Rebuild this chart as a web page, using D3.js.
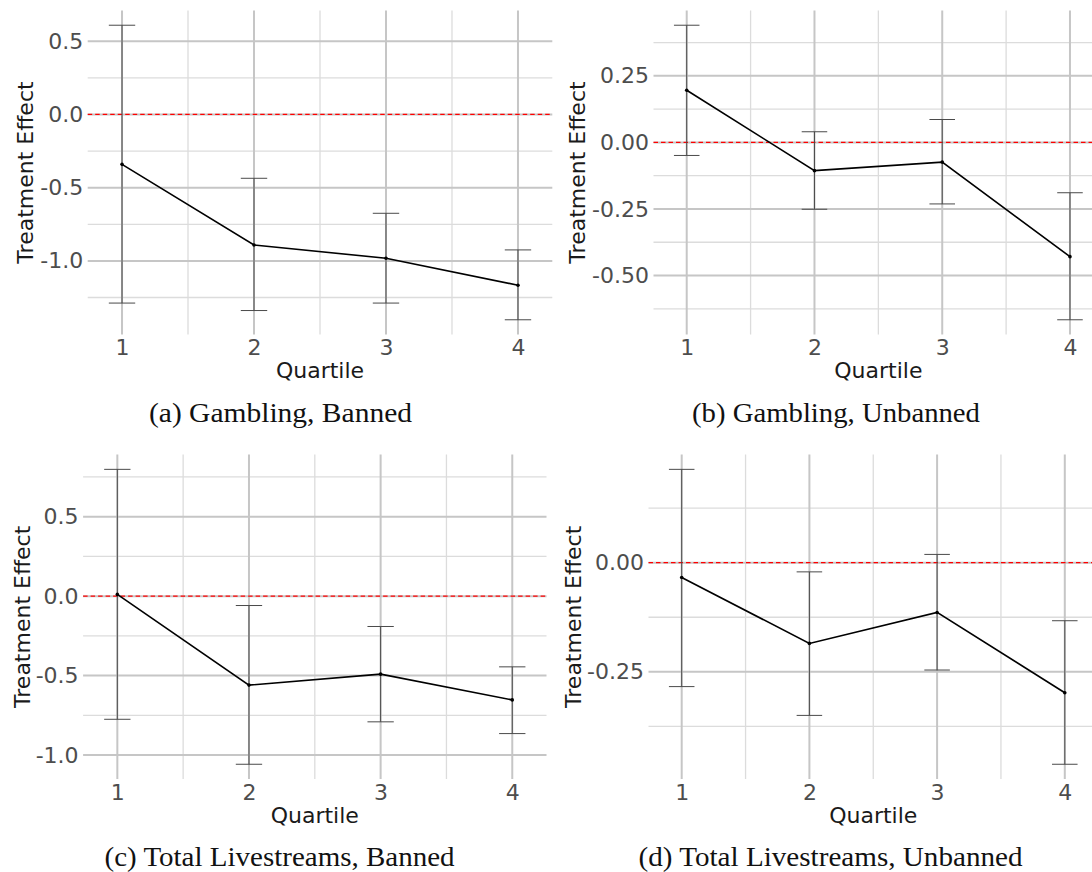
<!DOCTYPE html>
<html><head><meta charset="utf-8">
<script src="https://cdn.jsdelivr.net/npm/d3@7"></script>
<style>body{margin:0;background:#fff}svg{display:block}</style>
</head><body>
<svg id="chart" width="1092" height="872"></svg>
<script>
// ---------------- data ----------------
const quartiles = [1, 2, 3, 4];
const xTickLabels = ["1", "2", "3", "4"];

const gamblingBannedEst   = [-0.341, -0.891, -0.982, -1.166];
const gamblingBannedLow   = [-1.288, -1.339, -1.288, -1.402];
const gamblingBannedHigh  = [ 0.609, -0.436, -0.675, -0.925];

const gamblingUnbannedEst  = [ 0.196, -0.106, -0.074, -0.429];
const gamblingUnbannedLow  = [-0.049, -0.251, -0.231, -0.666];
const gamblingUnbannedHigh = [ 0.440,  0.040,  0.086, -0.189];

const livestreamsBannedEst  = [ 0.011, -0.560, -0.491, -0.653];
const livestreamsBannedLow  = [-0.775, -1.058, -0.791, -0.865];
const livestreamsBannedHigh = [ 0.798, -0.059, -0.191, -0.445];

const livestreamsUnbannedEst  = [-0.034, -0.185, -0.114, -0.298];
const livestreamsUnbannedLow  = [-0.284, -0.350, -0.246, -0.462];
const livestreamsUnbannedHigh = [ 0.214, -0.021,  0.019, -0.133];

const yTicksGamblingBanned = [-1.0, -0.5, 0.0, 0.5];
const yLabelsGamblingBanned = ["-1.0", "-0.5", "0.0", "0.5"];
const yTicksGamblingUnbanned = [-0.5, -0.25, 0.0, 0.25];
const yLabelsGamblingUnbanned = ["-0.50", "-0.25", "0.00", "0.25"];
const yTicksLivestreamsBanned = [-1.0, -0.5, 0.0, 0.5];
const yLabelsLivestreamsBanned = ["-1.0", "-0.5", "0.0", "0.5"];
const yTicksLivestreamsUnbanned = [-0.25, 0.0];
const yLabelsLivestreamsUnbanned = ["-0.25", "0.00"];

const captions = ["(a) Gambling, Banned", "(b) Gambling, Unbanned",
                  "(c) Total Livestreams, Banned", "(d) Total Livestreams, Unbanned"];
const xTitle = "Quartile";
const yTitle = "Treatment Effect";
const referenceValue = 0;
const errorbarWidth = 0.2;

// ---------------- layout ----------------
const layouts = [
  {left: 87.7,  right: 552.3,  top: 10.5,  bottom: 334.5, ytitleX: 25,    capX: 280.5, capY: 422, capW: 263},
  {left: 653.5, right: 1103.2, top: 10.5,  bottom: 334.5, ytitleX: 577,   capX: 836,   capY: 422, capW: 288},
  {left: 83.1,  right: 546.5,  top: 454.6, bottom: 779,   ytitleX: 21.7,  capX: 279.5, capY: 866, capW: 350},
  {left: 648.5, right: 1098,   top: 454.6, bottom: 779,   ytitleX: 573.3, capX: 830.5, capY: 866, capW: 384}
];

const panels = [
  {est: gamblingBannedEst, low: gamblingBannedLow, high: gamblingBannedHigh, ticks: yTicksGamblingBanned, labels: yLabelsGamblingBanned},
  {est: gamblingUnbannedEst, low: gamblingUnbannedLow, high: gamblingUnbannedHigh, ticks: yTicksGamblingUnbanned, labels: yLabelsGamblingUnbanned},
  {est: livestreamsBannedEst, low: livestreamsBannedLow, high: livestreamsBannedHigh, ticks: yTicksLivestreamsBanned, labels: yLabelsLivestreamsBanned},
  {est: livestreamsUnbannedEst, low: livestreamsUnbannedLow, high: livestreamsUnbannedHigh, ticks: yTicksLivestreamsUnbanned, labels: yLabelsLivestreamsUnbanned}
];

const svg = d3.select("#chart");
svg.append("rect").attr("width", 1092).attr("height", 872).attr("fill", "#fff");

const sansFont = "'DejaVu Sans', sans-serif";

panels.forEach((p, i) => {
  const L = layouts[i];
  const rows = quartiles.map((q, k) => ({q, est: p.est[k], low: p.low[k], high: p.high[k]}));

  // ggplot-like 5% expansion
  const xmin = d3.min(quartiles) - errorbarWidth / 2, xmax = d3.max(quartiles) + errorbarWidth / 2;
  const xpad = 0.05 * (xmax - xmin);
  const x = d3.scaleLinear().domain([xmin - xpad, xmax + xpad]).range([L.left, L.right]);
  const ymin = d3.min(p.low), ymax = d3.max(p.high);
  const ypad = 0.05 * (ymax - ymin);
  const yDom = [ymin - ypad, ymax + ypad];
  const y = d3.scaleLinear().domain(yDom).range([L.bottom, L.top]);

  const g = svg.append("g");

  // minor gridlines
  const step = p.ticks[1] - p.ticks[0];
  const yMinor = [];
  for (let k = -1; k < p.ticks.length; k++) {
    const v = p.ticks[0] + (k + 0.5) * step;
    if (v >= yDom[0] && v <= yDom[1]) yMinor.push(v);
  }
  const xMinor = quartiles.slice(0, -1).map(q => q + 0.5);

  g.selectAll(".hmin").data(yMinor).join("line")
    .attr("x1", L.left).attr("x2", L.right).attr("y1", d => y(d)).attr("y2", d => y(d))
    .attr("stroke", "#dcdcdc").attr("stroke-width", 1.3);
  g.selectAll(".vmin").data(xMinor).join("line")
    .attr("y1", L.top).attr("y2", L.bottom).attr("x1", d => x(d)).attr("x2", d => x(d))
    .attr("stroke", "#dcdcdc").attr("stroke-width", 1.3);
  // major gridlines
  g.selectAll(".hmaj").data(p.ticks).join("line")
    .attr("x1", L.left).attr("x2", L.right).attr("y1", d => y(d)).attr("y2", d => y(d))
    .attr("stroke", "#c6c6c6").attr("stroke-width", 2);
  g.selectAll(".vmaj").data(quartiles).join("line")
    .attr("y1", L.top).attr("y2", L.bottom).attr("x1", d => x(d)).attr("x2", d => x(d))
    .attr("stroke", "#c6c6c6").attr("stroke-width", 2);

  // reference line
  g.append("line")
    .attr("x1", L.left).attr("x2", L.right)
    .attr("y1", y(referenceValue)).attr("y2", y(referenceValue))
    .attr("stroke", "#ff0000").attr("stroke-width", 1.2).attr("stroke-dasharray", "4.5,3");

  // error bars
  const eb = g.selectAll(".eb").data(rows).join("g");
  eb.append("line").attr("x1", d => x(d.q)).attr("x2", d => x(d.q))
    .attr("y1", d => y(d.low)).attr("y2", d => y(d.high))
    .attr("stroke", "#4a4a4a").attr("stroke-width", 1);
  eb.append("line").attr("x1", d => x(d.q - errorbarWidth / 2)).attr("x2", d => x(d.q + errorbarWidth / 2))
    .attr("y1", d => y(d.low)).attr("y2", d => y(d.low))
    .attr("stroke", "#4a4a4a").attr("stroke-width", 1);
  eb.append("line").attr("x1", d => x(d.q - errorbarWidth / 2)).attr("x2", d => x(d.q + errorbarWidth / 2))
    .attr("y1", d => y(d.high)).attr("y2", d => y(d.high))
    .attr("stroke", "#4a4a4a").attr("stroke-width", 1);

  // line and points
  g.append("path").datum(rows)
    .attr("d", d3.line().x(d => x(d.q)).y(d => y(d.est)))
    .attr("fill", "none").attr("stroke", "#000").attr("stroke-width", 1.6);
  g.selectAll(".pt").data(rows).join("circle")
    .attr("cx", d => x(d.q)).attr("cy", d => y(d.est)).attr("r", 1.8).attr("fill", "#000");

  // axes
  const ya = g.append("g").attr("transform", `translate(${L.left},0)`)
    .call(d3.axisLeft(y).tickValues(p.ticks).tickFormat((d, k) => p.labels[k]).tickSize(0).tickPadding(4.5));
  ya.select(".domain").remove();
  ya.selectAll("text").attr("font-family", sansFont).attr("font-size", 22).attr("fill", "#4d4d4d");

  const xa = g.append("g").attr("transform", `translate(0,${L.bottom})`)
    .call(d3.axisBottom(x).tickValues(quartiles).tickFormat((d, k) => xTickLabels[k]).tickSize(0).tickPadding(5));
  xa.select(".domain").remove();
  xa.selectAll("text").attr("font-family", sansFont).attr("font-size", 22).attr("fill", "#4d4d4d");

  // titles
  g.append("text").text(xTitle)
    .attr("x", (L.left + L.right) / 2).attr("y", L.bottom + 43.5)
    .attr("text-anchor", "middle").attr("font-family", sansFont).attr("font-size", 22).attr("fill", "#1a1a1a");
  g.append("text").text(yTitle)
    .attr("transform", `translate(${L.ytitleX},${(L.top + L.bottom) / 2}) rotate(-90)`)
    .attr("dy", "0.36em")
    .attr("text-anchor", "middle").attr("font-family", sansFont).attr("font-size", 22).attr("fill", "#1a1a1a");

  // caption
  svg.append("text").text(captions[i])
    .attr("x", L.capX).attr("y", L.capY)
    .attr("text-anchor", "middle")
    .attr("font-family", "'Liberation Serif', 'DejaVu Serif', serif")
    .attr("font-size", 26.5).attr("fill", "#111")
    .attr("textLength", L.capW).attr("lengthAdjust", "spacingAndGlyphs");
});
</script>
</body></html>
